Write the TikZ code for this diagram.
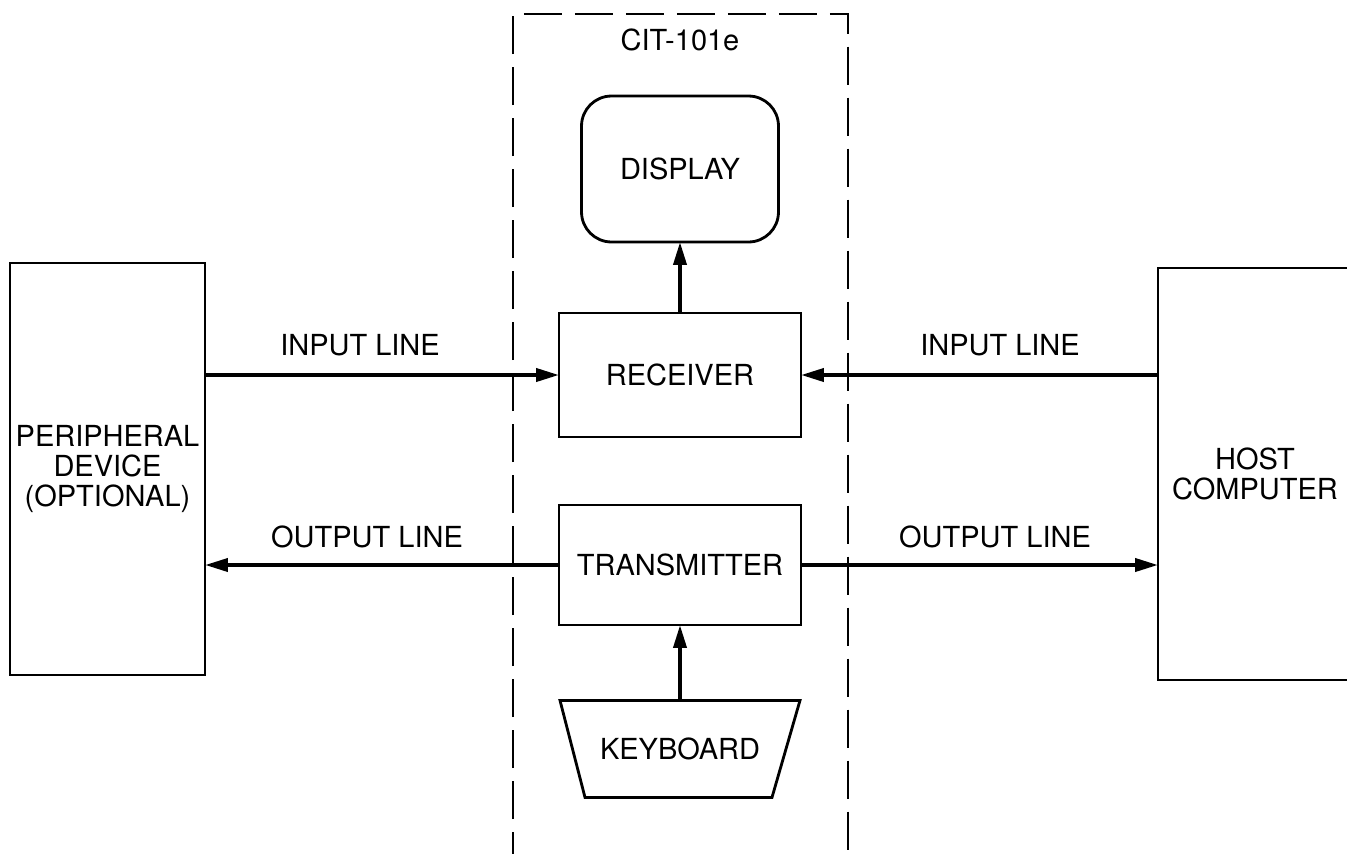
\documentclass[tikz,border=0pt]{standalone}
\usepackage{fontspec}
\setmainfont{TeX Gyre Heros}
\usetikzlibrary{positioning,arrows.meta}

\begin{document}
\begin{tikzpicture}[
    x=0.02cm, y=-0.02cm,
    >={Triangle[length=0.46cm,width=0.26cm]},
    block/.style={draw, line width=1.6pt, inner sep=0pt, outer sep=0pt,
        align=center, font=\fontsize{16.5}{17}\selectfont},
    flow/.style={->, line width=2.2pt},
    linelabel/.style={above, font=\fontsize{16.5}{17}\selectfont}
]

% Canvas: 1347 x 853 px, 1 px = 0.02cm, y grows downwards
\useasboundingbox (0,0) rectangle (1347,853);
\clip (0,0) rectangle (1347,853);

% Terminal outline (open at the bottom)
\draw[line width=1.3pt, dash pattern=on 0.76cm off 0.26cm]
    (513,870) -- (513,14) -- (848,14) -- (848,870);
\node[font=\fontsize{16.5}{17}\selectfont] (cit) at (680,40) {CIT-101e};

% Blocks inside the terminal
\node[block, rounded corners=0.6cm, minimum width=3.94cm, minimum height=2.92cm]
    (disp) at (680,169) {DISPLAY};
\node[block, minimum width=4.84cm, minimum height=2.48cm]
    (rx) at (680,375) {RECEIVER};
\node[block, minimum width=4.84cm, minimum height=2.40cm]
    (tx) at (680,565) {TRANSMITTER};
\node[block, draw=none, minimum width=4.8cm, minimum height=1.94cm]
    (kbd) at (680,749) {KEYBOARD};
\draw[line width=1.6pt] (kbd.north west) -- (kbd.north east)
    -- ([xshift=-0.56cm]kbd.south east) -- ([xshift=0.5cm]kbd.south west) -- cycle;

% Outside blocks
\node[block, minimum width=3.9cm, minimum height=8.24cm]
    (periph) at (107.5,469) {PERIPHERAL\\DEVICE\\(OPTIONAL)};
\node[block, minimum width=3.88cm, minimum height=8.24cm]
    (host) at (1255,474) {HOST\\COMPUTER};

% Internal connections
\draw[flow] (rx) -- (disp);
\draw[flow] (kbd) -- (tx);

% Serial lines
\draw[flow] (rx.west -| periph.east) -- (rx.west);
\draw[flow] (tx.west) -- (tx.west -| periph.east);
\draw[flow] (rx.east -| host.west) -- (rx.east);
\draw[flow] (tx.east) -- (tx.east -| host.west);

% Line labels
\node[linelabel] (inl) at (360,362) {INPUT LINE};
\node[linelabel] (outl) at (367,554) {OUTPUT LINE};
\node[linelabel] (inr) at (1000,362) {INPUT LINE};
\node[linelabel] (outr) at (995,554) {OUTPUT LINE};

\end{tikzpicture}
\end{document}
